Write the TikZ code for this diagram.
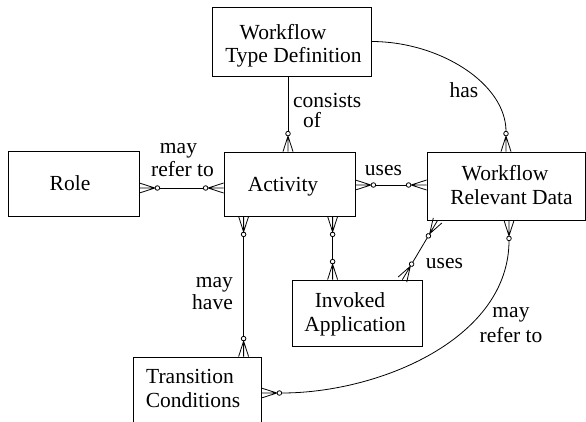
\documentclass[tikz,border=0pt]{standalone}
\usepackage{fontspec}
\setmainfont{Liberation Serif}
\newfontfamily\libserif{Liberation Serif}
\usetikzlibrary{calc}

\pgfdeclarearrow{
  name = CF,
  setup code = {
    \pgfarrowssettipend{0pt}
    \pgfarrowssetlineend{-20.2pt}
    \pgfarrowssetbackend{-20.5pt}
    \pgfarrowshullpoint{0pt}{5pt}
    \pgfarrowshullpoint{0pt}{-5pt}
    \pgfarrowshullpoint{-20.5pt}{0pt}
  },
  drawing code = {
    \pgfsetdash{}{0pt}
    \pgfpathmoveto{\pgfqpoint{0pt}{5pt}}
    \pgfpathlineto{\pgfqpoint{-15.5pt}{0pt}}
    \pgfpathlineto{\pgfqpoint{0pt}{-5pt}}
    \pgfpathmoveto{\pgfqpoint{0pt}{0pt}}
    \pgfpathlineto{\pgfqpoint{-15.5pt}{0pt}}
    \pgfusepathqstroke
    \pgfpathcircle{\pgfqpoint{-18pt}{0pt}}{2.3pt}
    \pgfusepathqstroke
  }
}

\tikzset{
  txt/.style={font=\libserif\fontsize{21.5}{#1}\selectfont, align=center, inner sep=0pt},
  txt/.default=24,
  box/.style={draw, line width=0.8pt, inner sep=0pt},
  lbl/.style={font=\libserif\fontsize{21.5}{#1}\selectfont, inner sep=0pt},
  conn/.style={line width=0.8pt}
}

\begin{document}
\begin{tikzpicture}[x=1pt,y=-1pt]
\useasboundingbox (0,0) rectangle (586,421);

% entity boxes
\node[box, minimum width=159pt, minimum height=69pt] (wtd) at (291.5,41.5) {};
\node[box, minimum width=131pt, minimum height=65pt] (role) at (73.5,183.5) {};
\node[box, minimum width=131pt, minimum height=64pt] (act) at (289.5,184) {};
\node[box, minimum width=158pt, minimum height=68pt] (wrd) at (506,186) {};
\node[box, minimum width=130pt, minimum height=66pt] (inv) at (357,313) {};
\node[box, minimum width=128pt, minimum height=67pt] (tc) at (197,390.5) {};

% entity names
\node[txt=22.5] (wtdT) at (291.5,45.6) {\mbox{Workflow\kern17pt}\\\mbox{\kern4pt Type Definition}};
\node[txt, anchor=base] (roleT) at (70,190.7) {Role};
\node[txt, anchor=base] (actT) at (283,191) {Activity};
\node[txt] (wrdT) at (506,185.2) {\mbox{Workflow\kern2pt}\\\mbox{\kern11pt Relevant Data}};
\node[txt] (invT) at (357,314) {\mbox{Invoked\kern14pt}\\\mbox{Application\kern4pt}};
\node[txt] (tcT) at (197,388.2) {\mbox{Transition\kern14pt}\\\mbox{Conditions\kern8pt}};

% connectors
\draw[conn, -{CF}] (wtd.south -| act.north) ++(-1.5,0) -- ([xshift=-1.5pt]act.north);
\draw[conn, -{CF}] (wtd.east) to[out=0, in=90] (wrd.north);
\draw[conn, {CF}-{CF}] ([yshift=-4.5pt]role.east) -- ([yshift=-4pt]act.west);
\draw[conn, {CF}-{CF}] ([yshift=-1pt]act.east) -- ([yshift=1pt]wrd.west);
\draw[conn, {CF}-{CF}] ([xshift=20pt]act.south west) -- ([xshift=111pt]tc.north west);
\draw[conn, {CF}-{CF}] ([xshift=109pt]act.south west) -- ([xshift=41pt]inv.north west);
\draw[conn, {CF}-{CF}] ([xshift=11pt]wrd.south west) -- ([xshift=-20pt]inv.north east);
\draw[conn, {CF}-{CF}] ([xshift=3pt]wrd.south) to[out=-90, in=0] ([yshift=-2.5pt]tc.east);

% relationship labels
\node[lbl=20, align=left, anchor=west] (l1) at (293,110.6) {consists\\\hspace*{10pt}of};
\node[lbl=25, anchor=base] (l2) at (464,97) {has};
\node[lbl=23, align=center] (l3) at (182.5,160.5) {\mbox{may\kern8pt}\\refer to};
\node[lbl=25, anchor=base] (l4) at (383.5,175) {uses};
\node[lbl=22, align=right, anchor=east] (l5) at (233,294) {may\\have};
\node[lbl=25, anchor=base] (l6) at (444.5,268) {uses};
\node[lbl=25, align=center] (l7) at (511,325) {may\\refer to};
\end{tikzpicture}
\end{document}
